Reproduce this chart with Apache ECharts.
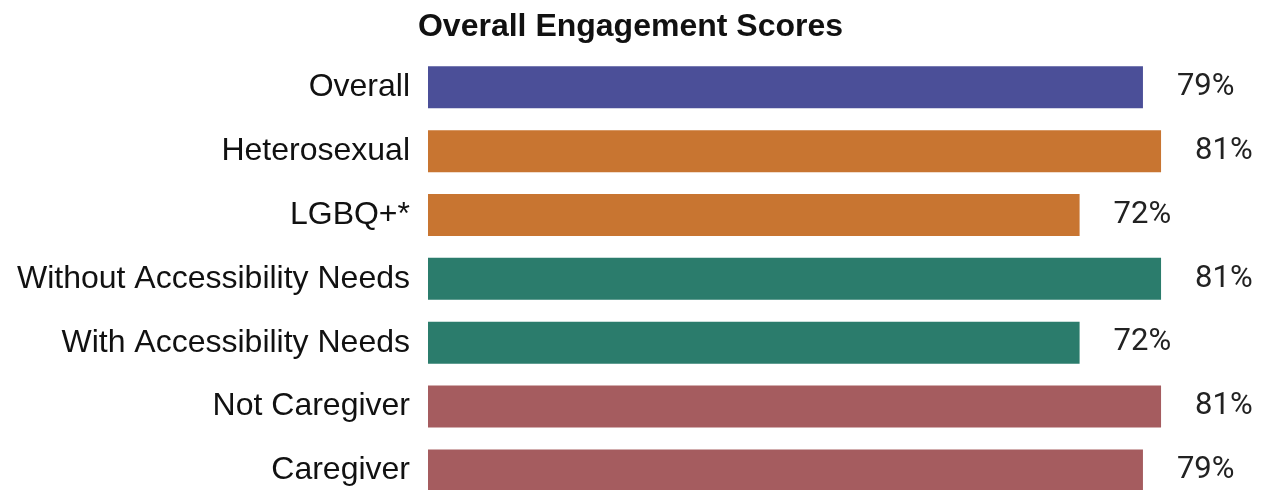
<!DOCTYPE html>
<html>
<head>
<meta charset="utf-8">
<script src="https://cdn.jsdelivr.net/npm/echarts@6/dist/echarts.min.js"></script>
<style>html,body{margin:0;padding:0;background:#fff;overflow:hidden;}#c{width:1261px;height:503px;}</style>
</head>
<body>
<div id="c"></div>
<script>
const categories = ['Overall','Heterosexual','LGBQ+*','Without Accessibility Needs','With Accessibility Needs','Not Caregiver','Caregiver'];
const values = [79, 81, 72, 81, 72, 81, 79];
const groups = ['overall','orientation','orientation','access','access','care','care'];
const title = 'Overall Engagement Scores';

const palette = {overall:'#4b4f98', orientation:'#c87531', access:'#2b7c6c', care:'#a55c5f'};

const chart = echarts.init(document.getElementById('c'));
chart.setOption({
  animation:false,
  backgroundColor:'#ffffff',
  title:{
    text:title, left:'center', top:6,
    textStyle:{fontFamily:'Liberation Sans', fontWeight:'bold', fontSize:32, color:'#111'}
  },
  grid:{left:428, top:55.4, width:814.5, height:446.9, containLabel:false},
  xAxis:{type:'value', min:0, max:90, show:false},
  yAxis:{
    type:'category', data:categories, inverse:true,
    axisLine:{show:false}, axisTick:{show:false},
    axisLabel:{margin:18, fontFamily:'Liberation Sans', fontSize:32, color:'#111'}
  },
  series:[{
    type:'bar', barWidth:42,
    data: values.map((v,i)=>({value:v, itemStyle:{color:palette[groups[i]]}})),
    label:{show:true, position:'right', distance:34, formatter:'{c}%',
      fontFamily:'Roboto', fontSize:31, color:'#222'}
  }]
});
</script>
</body>
</html>
